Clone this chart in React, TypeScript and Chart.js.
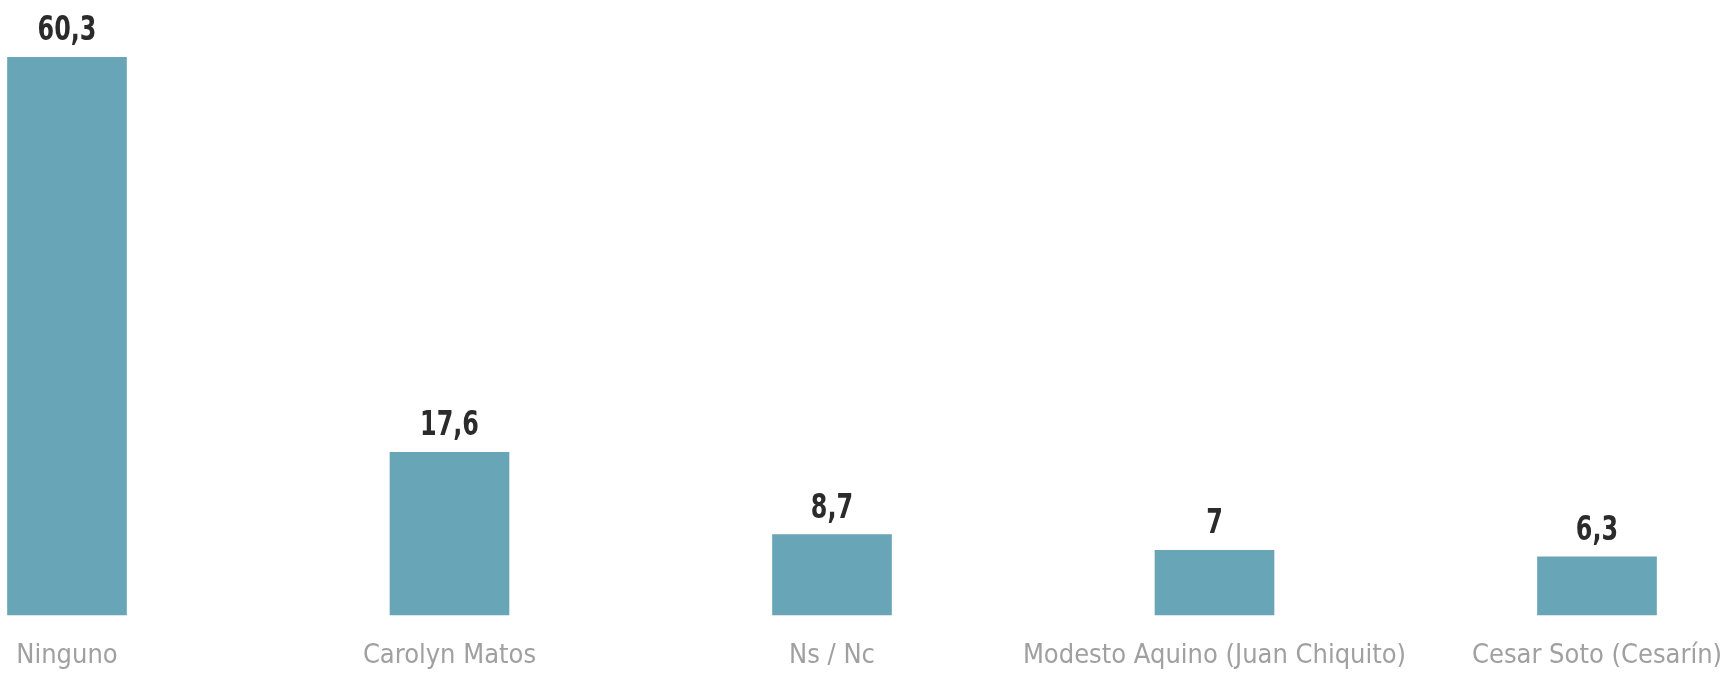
import React, { useEffect, useRef } from "react";
import { Chart, registerables } from "chart.js";

Chart.register(...registerables);

const categories = [
  "Ninguno",
  "Carolyn Matos",
  "Ns / Nc",
  "Modesto Aquino (Juan Chiquito)",
  "Cesar Soto (Cesarín)",
];
const values = [60.3, 17.6, 8.7, 7, 6.3];
const valueLabels = ["60,3", "17,6", "8,7", "7", "6,3"];

const BAR_COLOR = "#68a5b6";
const FONT_FAMILY = '"Liberation Sans Narrow", "DejaVu Sans Condensed", sans-serif';

const valueLabelPlugin = {
  id: "valueLabels",
  afterDatasetsDraw(chart: any) {
    const ctx = chart.ctx;
    const meta = chart.getDatasetMeta(0);
    meta.data.forEach((bar: any, i: number) => {
      ctx.save();
      ctx.translate(bar.x, bar.y - 17);
      ctx.scale(0.78, 1);
      ctx.font = "bold 34px " + FONT_FAMILY;
      ctx.fillStyle = "#2b2b2b";
      ctx.textAlign = "center";
      ctx.textBaseline = "alphabetic";
      ctx.fillText(valueLabels[i], 0, 0);
      ctx.restore();
    });
  },
};

export default function App() {
  const ref = useRef<HTMLCanvasElement>(null);
  useEffect(() => {
    if (!ref.current) return;
    const chart = new Chart(ref.current, {
      type: "bar",
      data: {
        labels: categories,
        datasets: [
          {
            data: values,
            backgroundColor: BAR_COLOR,
            borderWidth: 0,
            barThickness: 119,
            clip: false as any,
          },
        ],
      },
      options: {
        animation: false,
        responsive: false,
        maintainAspectRatio: false,
        layout: { padding: { left: 67, right: 123, top: 0, bottom: 2 } },
        plugins: {
          legend: { display: false },
          tooltip: { enabled: false },
        },
        scales: {
          x: {
            type: "category",
            offset: false,
            grid: { display: false },
            border: { display: false },
            afterFit: (scale: any) => {
              scale.height = 60;
              scale.paddingLeft = 0;
              scale.paddingRight = 0;
            },
            ticks: {
              color: "#a0a0a0",
              padding: 17,
              maxRotation: 0,
              minRotation: 0,
              autoSkip: false,
              font: {
                family: FONT_FAMILY,
                size: 27,
                lineHeight: 1.2,
              },
            },
          },
          y: {
            display: false,
            min: 0,
            max: 66.5,
          },
        },
      },
      plugins: [valueLabelPlugin],
    });
    return () => chart.destroy();
  }, []);

  return (
    <div
      style={{
        position: "fixed",
        left: 0,
        top: 0,
        width: 1720,
        height: 677,
        background: "#ffffff",
        overflow: "hidden",
      }}
    >
      <canvas ref={ref} width={1720} height={677} style={{ display: "block" }} />
    </div>
  );
}
